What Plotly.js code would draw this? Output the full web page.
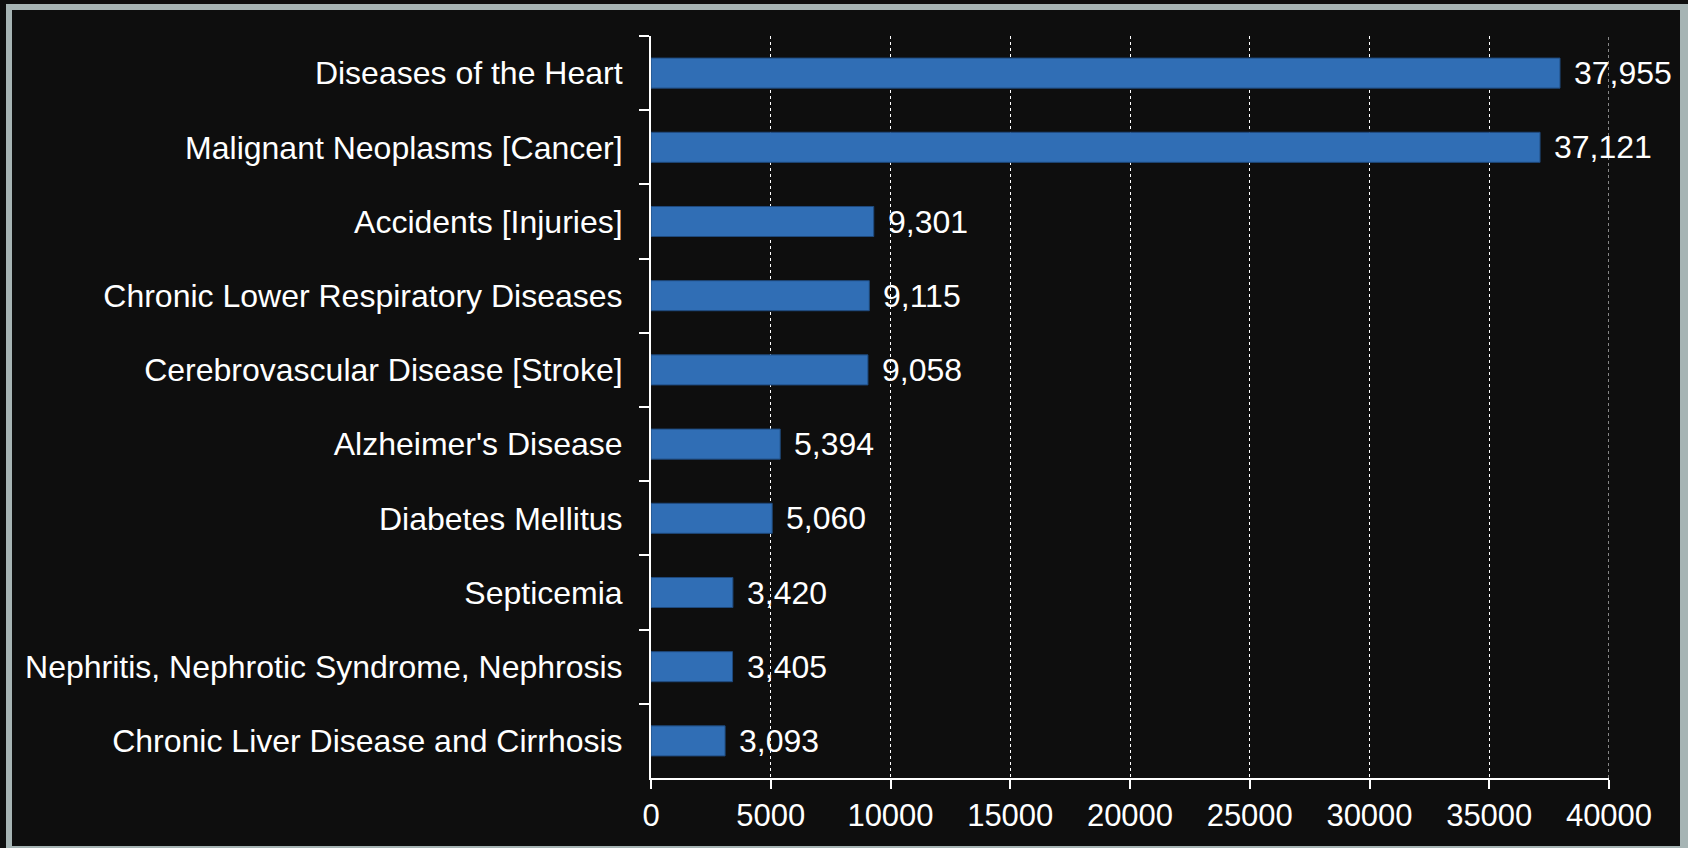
<!DOCTYPE html>
<html>
<head>
<meta charset="utf-8">
<script src="https://cdn.plot.ly/plotly-3.0.1.min.js"></script>
<style>
    html, body {
        margin: 0;
        padding: 0;
        background: #0e0e0e;
        overflow: hidden;
    }
    #chart {
        width: 1688px;
        height: 848px;
    }
    /* grey frame drawn over the chart */
    #frame {
        position: absolute;
        left: 6px;
        top: 4px;
        width: 1668px;
        height: 836px;
        border-style: solid;
        border-color: #a6b4b4;
        border-width: 6px 8px 6px 6px;
        pointer-events: none;
    }
</style>
</head>
<body>
<div id="chart"></div>
<div id="frame"></div>
<script>
// Leading causes of death, top to bottom
const causes = [
    'Diseases of the Heart',
    'Malignant Neoplasms [Cancer]',
    'Accidents [Injuries]',
    'Chronic Lower Respiratory Diseases',
    'Cerebrovascular Disease [Stroke]',
    "Alzheimer's Disease",
    'Diabetes Mellitus',
    'Septicemia',
    'Nephritis, Nephrotic Syndrome, Nephrosis',
    'Chronic Liver Disease and Cirrhosis'
];

const deaths = [37955, 37121, 9301, 9115, 9058, 5394, 5060, 3420, 3405, 3093];

const xTicks = [0, 5000, 10000, 15000, 20000, 25000, 30000, 35000, 40000];

const FONT = '"Liberation Sans", Arial, sans-serif';
const WHITE = '#ffffff';

const trace = {
    type: 'bar',
    orientation: 'h',
    x: deaths,
    y: causes,
    marker: {
        color: '#306eb5',
        line: { color: '#1f4a7d', width: 1 }
    },
    hoverinfo: 'x+y'
};

// value labels to the right of each bar
const labels = deaths.map((v, i) => ({
    x: v,
    y: causes[i],
    xref: 'x',
    yref: 'y',
    text: v.toLocaleString('en-US'),
    showarrow: false,
    xanchor: 'left',
    yanchor: 'middle',
    xshift: 12,
    font: { family: FONT, size: 32, color: WHITE }
}));

// plotly skips the gridline on the range end, draw it by hand
const lastGrid = {
    type: 'line',
    xref: 'x',
    yref: 'paper',
    x0: xTicks[xTicks.length - 1],
    x1: xTicks[xTicks.length - 1],
    y0: 0,
    y1: 1,
    line: { color: WHITE, width: 1, dash: 'dot' },
    layer: 'below'
};

const layout = {
    width: 1688,
    height: 848,
    paper_bgcolor: '#0e0e0e',
    plot_bgcolor: '#0e0e0e',
    margin: { l: 651, r: 79, t: 36, b: 70 },
    bargap: 0.595,
    showlegend: false,
    font: { family: FONT, size: 32, color: WHITE },
    xaxis: {
        range: [0, 40000],
        tickvals: xTicks,
        ticktext: xTicks.map(String),
        showgrid: true,
        gridcolor: WHITE,
        gridwidth: 1,
        griddash: 'dot',
        zeroline: false,
        showline: true,
        linecolor: WHITE,
        linewidth: 2,
        ticks: 'outside',
        ticklen: 9,
        tickwidth: 2,
        tickcolor: WHITE,
        tickfont: { family: FONT, size: 31, color: WHITE },
        fixedrange: true
    },
    yaxis: {
        type: 'category',
        autorange: 'reversed',
        showgrid: false,
        zeroline: false,
        showline: true,
        linecolor: WHITE,
        linewidth: 2,
        ticks: 'outside',
        tickson: 'boundaries',
        ticklen: 10,
        tickwidth: 2,
        tickcolor: WHITE,
        ticklabelstandoff: 20,
        tickfont: { family: FONT, size: 32, color: WHITE },
        fixedrange: true
    },
    shapes: [lastGrid],
    annotations: labels
};

Plotly.newPlot('chart', [trace], layout, { displayModeBar: false, staticPlot: true });
</script>
</body>
</html>
